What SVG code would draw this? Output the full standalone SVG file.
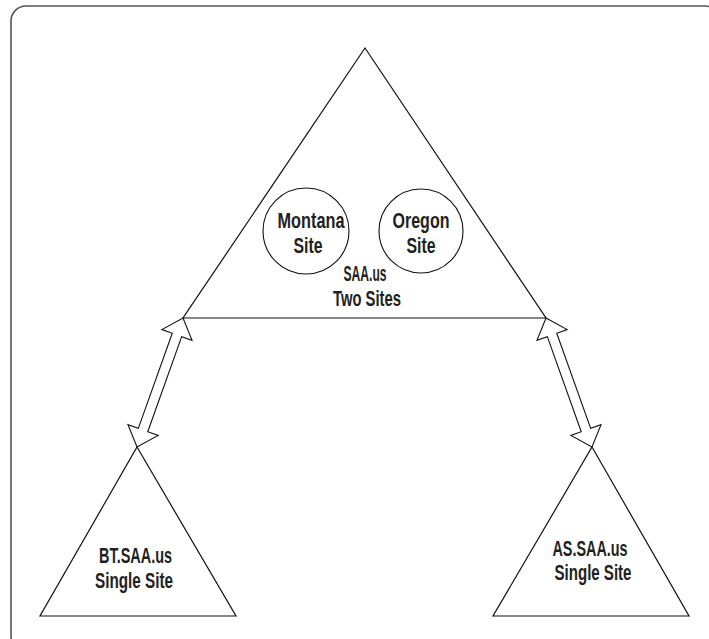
<svg xmlns="http://www.w3.org/2000/svg" width="709" height="639" viewBox="0 0 709 639">
<style>
.frame{fill:none;stroke:#555;stroke-width:1.6}
.shape{fill:#fff;stroke:#111;stroke-width:1.2;stroke-linejoin:miter}
.circ{fill:none;stroke:#111;stroke-width:1.1}
.arrow{fill:#fff;stroke:#111;stroke-width:1.1;stroke-linejoin:miter}
text{font-family:"Liberation Sans",Arial,sans-serif;font-size:22px;font-weight:bold;fill:#231f20;text-anchor:middle}
</style>
<rect width="709" height="639" fill="#fff"/>
<rect class="frame" x="11" y="6" width="709" height="645" rx="15" ry="15"/>
<g id="saa-us">
<polygon class="shape" points="365,48 546,318 183,318"/>
<text x="365" y="281" textLength="43" lengthAdjust="spacingAndGlyphs">SAA.us</text>
<text x="367" y="306" textLength="68" lengthAdjust="spacingAndGlyphs">Two Sites</text>
</g>
<g id="montana-site">
<circle class="circ" cx="306" cy="231" r="43"/>
<text x="311" y="228" textLength="67" lengthAdjust="spacingAndGlyphs">Montana</text>
<text x="308" y="252.5" textLength="29" lengthAdjust="spacingAndGlyphs">Site</text>
</g>
<g id="oregon-site">
<circle class="circ" cx="421" cy="231" r="42"/>
<text x="421" y="228" textLength="57" lengthAdjust="spacingAndGlyphs">Oregon</text>
<text x="421" y="252.5" textLength="29" lengthAdjust="spacingAndGlyphs">Site</text>
</g>
<g id="bt-saa-us">
<polygon class="shape" points="137,447 236,616 40,616"/>
<text x="135.5" y="563" textLength="73" lengthAdjust="spacingAndGlyphs">BT.SAA.us</text>
<text x="134" y="587.5" textLength="78" lengthAdjust="spacingAndGlyphs">Single Site</text>
</g>
<g id="as-saa-us">
<polygon class="shape" points="592,447 689,616 493,616"/>
<text x="590" y="555.5" textLength="75" lengthAdjust="spacingAndGlyphs">AS.SAA.us</text>
<text x="593" y="580" textLength="77" lengthAdjust="spacingAndGlyphs">Single Site</text>
</g>
<g id="connectors">
<polygon class="arrow" points="183,318 192.03,340.33 181.67,336.64 147.75,431.72 158.11,435.41 137,447 127.97,424.67 138.33,428.36 172.25,333.28 161.89,329.59"/>
<polygon class="arrow" points="546,318 567.11,329.59 556.75,333.28 590.67,428.36 601.03,424.67 592,447 570.89,435.41 581.25,431.72 547.33,336.64 536.97,340.33"/>
</g>
</svg>
